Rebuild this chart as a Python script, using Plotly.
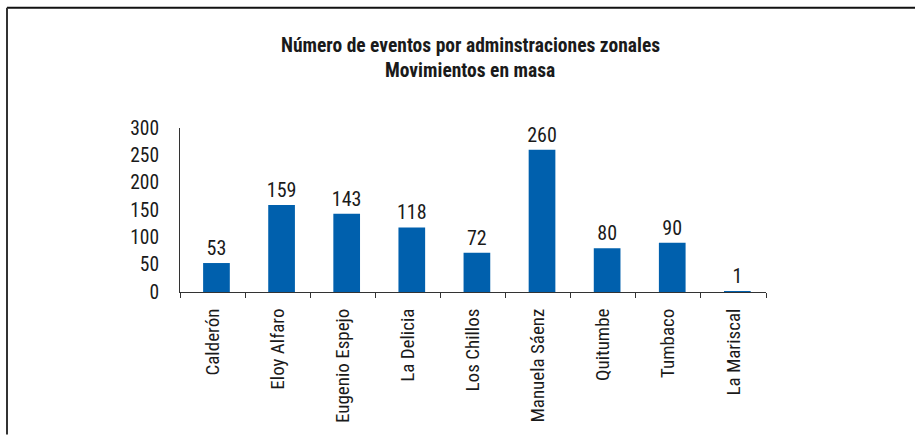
import plotly.graph_objects as go

# Administraciones zonales y número de eventos (movimientos en masa)
zonas = ["Calderón", "Eloy Alfaro", "Eugenio Espejo", "La Delicia", "Los Chillos",
         "Manuela Sáenz", "Quitumbe", "Tumbaco", "La Mariscal"]
eventos = [53, 159, 143, 118, 72, 260, 80, 90, 1]
y_ticks = [0, 50, 100, 150, 200, 250, 300]

FONT = "Roboto Condensed, Liberation Sans Narrow, Arial Narrow, Roboto, sans-serif"
BAR_COLOR = "#0060AD"
TEXT_COLOR = "#1a1a1a"

W, H = 915, 435
L, R, T, B = 180, 766, 127.5, 292  # plot area in pixels

bar_w = 0.41

fig = go.Figure(
    go.Bar(
        x=zonas,
        y=eventos,
        width=bar_w,
        offset=-bar_w / 2 + 0.06,
        marker=dict(color=BAR_COLOR, line=dict(width=0)),
        text=[str(v) for v in eventos],
        textposition="outside",
        constraintext="none",
        textfont=dict(family=FONT, size=20, color=TEXT_COLOR),
        cliponaxis=False,
        hoverinfo="x+y",
    )
)

def px_x(x):
    return (x - L) / (R - L)

def px_y(y):
    return (B - y) / (B - T)

# frame lines along the top and left edges
fig.add_shape(type="line", xref="paper", yref="paper",
              x0=px_x(7), x1=px_x(915), y0=px_y(7), y1=px_y(7),
              line=dict(color="#111111", width=2))
fig.add_shape(type="line", xref="paper", yref="paper",
              x0=px_x(7), x1=px_x(7), y0=px_y(7), y1=px_y(435),
              line=dict(color="#333333", width=2))

titles = [("Número de eventos por adminstraciones zonales", 45),
          ("Movimientos en masa", 70)]
for txt, ypx in titles:
    fig.add_annotation(text="<b>" + txt + "</b>", xref="paper", yref="paper",
                       x=px_x(470), y=px_y(ypx), xanchor="center", yanchor="middle",
                       showarrow=False,
                       font=dict(family=FONT, size=19.5, color=TEXT_COLOR))

fig.update_layout(
    width=W, height=H,
    margin=dict(l=L, r=W - R, t=T, b=H - B, pad=0),
    paper_bgcolor="white",
    plot_bgcolor="white",
    showlegend=False,
    font=dict(family=FONT, color=TEXT_COLOR),
    bargap=0.59,
)

fig.update_xaxes(
    type="category",
    showline=True, linecolor="#333333", linewidth=1,
    ticks="outside", tickson="boundaries", ticklen=5, tickcolor="#333333",
    tickangle=-90,
    tickfont=dict(family=FONT, size=19, color=TEXT_COLOR),
    ticklabelstandoff=8,
    showgrid=False, zeroline=False,
)

fig.update_yaxes(
    range=[0, 300],
    tickvals=y_ticks,
    showline=True, linecolor="#333333", linewidth=1,
    ticks="",
    tickfont=dict(family=FONT, size=19.5, color=TEXT_COLOR),
    ticklabelstandoff=16,
    showgrid=False, zeroline=False,
)

fig.write_html("out.html")
